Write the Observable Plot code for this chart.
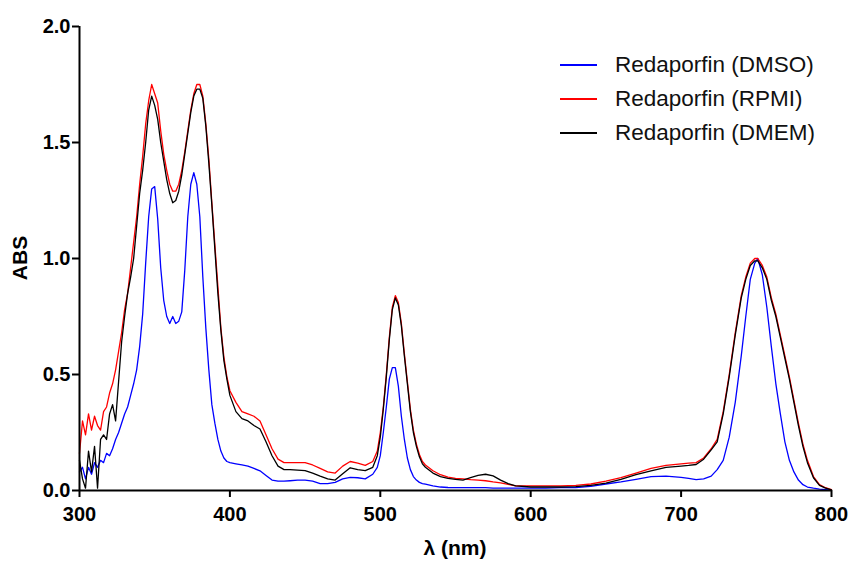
<!DOCTYPE html>
<html>
<head>
<meta charset="utf-8">
<script src="https://cdn.jsdelivr.net/npm/d3@7"></script>
<script src="https://cdn.jsdelivr.net/npm/@observablehq/plot@0.6"></script>
<style>
  html, body { margin: 0; padding: 0; background: #fff; }
  #wrap { position: relative; width: 854px; height: 562px; font-family: "Liberation Sans", Arial, sans-serif; }
  #legend { position: absolute; left: 560px; top: 48px; }
  .row { display: flex; align-items: center; height: 34px; }
  .sw { width: 37px; height: 2px; margin-right: 18px; }
  .lab { font-size: 22.5px; color: #111; white-space: nowrap; }
  .axlab { position: absolute; font-weight: bold; font-size: 21px; color: #000; white-space: nowrap; }
  #xlab { left: 455px; top: 548px; transform: translate(-50%, -50%); }
  #ylab { left: 20px; top: 258px; transform: translate(-50%, -50%) rotate(-90deg); }
</style>
</head>
<body>
<div id="wrap"><div id="chart"></div><div id="legend"></div>
<div class="axlab" id="xlab"></div><div class="axlab" id="ylab"></div></div>
<script>
const seriesNames = ["Redaporfin (DMSO)", "Redaporfin (RPMI)", "Redaporfin (DMEM)"];
const seriesColors = ["#0000ff", "#ff0000", "#000000"];
const xTicks = [300, 400, 500, 600, 700, 800];
const yTicks = [0, 0.5, 1.0, 1.5, 2.0];
const xTitle = "λ (nm)";
const yTitle = "ABS";

const wavelength = [
  300,302,304,306,308,310,312,314,316,318,320,322,324,326,328,330,332,334,336,338,340,
  342,344,346,348,350,352,354,356,358,360,362,364,366,368,370,372,374,376,378,380,
  382,384,386,388,390,392,394,396,398,400,
  404,408,412,416,420,424,428,432,436,440,
  445,450,455,460,465,470,475,480,485,490,495,
  498,500,502,504,506,508,510,512,514,516,518,520,522,524,526,528,530,
  535,540,545,550,555,560,565,570,575,580,585,590,
  600,610,620,630,640,650,660,670,680,690,700,
  705,710,715,720,
  724,728,732,736,740,743,746,749,751,754,757,760,763,766,769,772,775,778,781,784,788,792,796,800
];

const dmso = [
  0.08,0.10,0.05,0.10,0.07,0.12,0.10,0.13,0.12,0.16,0.15,0.18,0.22,0.25,0.29,0.33,0.36,0.41,0.46,0.52,0.62,
  0.76,0.98,1.18,1.30,1.31,1.17,0.96,0.82,0.75,0.72,0.75,0.72,0.73,0.77,0.95,1.18,1.32,1.37,1.32,1.18,
  0.92,0.70,0.52,0.37,0.29,0.22,0.17,0.14,0.125,0.12,
  0.115,0.11,0.105,0.095,0.085,0.065,0.045,0.04,0.04,0.042,
  0.045,0.045,0.04,0.03,0.03,0.035,0.05,0.057,0.055,0.05,0.07,
  0.10,0.15,0.25,0.36,0.48,0.53,0.53,0.45,0.32,0.22,0.14,0.09,0.06,0.045,0.035,0.03,0.027,
  0.02,0.015,0.013,0.012,0.012,0.012,0.012,0.012,0.01,0.01,0.01,0.01,
  0.01,0.01,0.012,0.013,0.018,0.028,0.037,0.048,0.06,0.062,0.057,
  0.052,0.047,0.05,0.062,
  0.09,0.13,0.23,0.38,0.58,0.75,0.91,0.98,1.00,0.93,0.79,0.62,0.46,0.33,0.21,0.13,0.08,0.045,0.025,0.015,0.01,0.006,0.004,0.002
];

const rpmi = [
  0.16,0.30,0.24,0.33,0.26,0.32,0.28,0.26,0.34,0.36,0.42,0.46,0.52,0.60,0.68,0.78,0.85,0.96,1.07,1.18,1.32,
  1.44,1.58,1.68,1.75,1.71,1.67,1.55,1.45,1.38,1.32,1.29,1.29,1.32,1.38,1.46,1.55,1.64,1.71,1.75,1.75,
  1.70,1.58,1.43,1.24,1.06,0.88,0.70,0.575,0.49,0.43,
  0.38,0.34,0.33,0.32,0.30,0.24,0.18,0.135,0.12,0.12,
  0.12,0.12,0.11,0.095,0.08,0.075,0.105,0.125,0.118,0.108,0.125,
  0.17,0.25,0.36,0.50,0.66,0.79,0.84,0.81,0.72,0.59,0.47,0.35,0.26,0.20,0.155,0.125,0.11,
  0.085,0.068,0.058,0.052,0.05,0.047,0.045,0.042,0.037,0.033,0.026,0.02,
  0.02,0.02,0.02,0.022,0.028,0.04,0.055,0.075,0.095,0.108,0.115,
  0.118,0.12,0.14,0.18,
  0.22,0.34,0.50,0.68,0.84,0.92,0.98,1.00,1.00,0.97,0.92,0.83,0.76,0.67,0.58,0.49,0.39,0.29,0.20,0.13,0.06,0.025,0.012,0.004
];

const dmem = [
  0.13,0.05,0.01,0.17,0.08,0.19,0.01,0.22,0.24,0.22,0.33,0.37,0.30,0.47,0.64,0.75,0.85,0.92,1.00,1.14,1.28,
  1.38,1.50,1.64,1.70,1.66,1.60,1.50,1.42,1.34,1.28,1.24,1.25,1.29,1.36,1.45,1.54,1.63,1.70,1.73,1.73,
  1.69,1.57,1.41,1.23,1.04,0.85,0.69,0.56,0.48,0.41,
  0.34,0.31,0.30,0.28,0.265,0.21,0.15,0.105,0.09,0.09,
  0.088,0.086,0.075,0.062,0.05,0.045,0.072,0.098,0.09,0.086,0.10,
  0.15,0.23,0.35,0.49,0.65,0.78,0.83,0.80,0.71,0.58,0.46,0.34,0.25,0.19,0.145,0.115,0.10,
  0.075,0.06,0.052,0.048,0.045,0.055,0.065,0.07,0.063,0.045,0.03,0.02,
  0.015,0.015,0.015,0.017,0.022,0.032,0.048,0.068,0.085,0.10,0.105,
  0.108,0.112,0.135,0.175,
  0.21,0.33,0.49,0.67,0.83,0.91,0.97,0.99,0.99,0.96,0.91,0.82,0.75,0.66,0.57,0.48,0.38,0.28,0.19,0.12,0.055,0.022,0.01,0.003
];

const seriesValues = [dmso, rpmi, dmem];
const rows = seriesValues.flatMap((vals, i) =>
  wavelength.map((wl, j) => ({wl, abs: vals[j], series: seriesNames[i]})));

const font = "'Liberation Sans', Arial, sans-serif";

const chart = Plot.plot({
  width: 854,
  height: 562,
  marginLeft: 79,
  marginRight: 23,
  marginTop: 26,
  marginBottom: 72,
  style: {fontFamily: font, background: "white", color: "#000"},
  x: {domain: [300, 800]},
  y: {domain: [0, 2]},
  marks: [
    ...seriesNames.map((name, i) => Plot.line(rows.filter(d => d.series === name), {
      x: "wl", y: "abs", stroke: seriesColors[i], strokeWidth: 1.3
    })),
    Plot.axisX({ticks: xTicks, tickSize: 7, strokeWidth: 2, tickPadding: 9, fontSize: 20, fontWeight: "bold",
      tickFormat: d => String(d), label: null}),
    Plot.axisY({ticks: yTicks, tickSize: 7, strokeWidth: 2, tickPadding: 2, fontSize: 20, fontWeight: "bold",
      tickFormat: d3.format(".1f"), label: null}),
    Plot.ruleY([0], {stroke: "#000", strokeWidth: 2}),
    Plot.ruleX([300], {stroke: "#000", strokeWidth: 2})
  ]
});
document.getElementById("chart").appendChild(chart);
document.getElementById("xlab").textContent = xTitle;
document.getElementById("ylab").textContent = yTitle;

const legend = document.getElementById("legend");
seriesNames.forEach((name, i) => {
  const row = document.createElement("div");
  row.className = "row";
  const sw = document.createElement("div");
  sw.className = "sw";
  sw.style.backgroundColor = seriesColors[i];
  const lab = document.createElement("span");
  lab.className = "lab";
  lab.textContent = name;
  row.appendChild(sw);
  row.appendChild(lab);
  legend.appendChild(row);
});
</script>
</body>
</html>
